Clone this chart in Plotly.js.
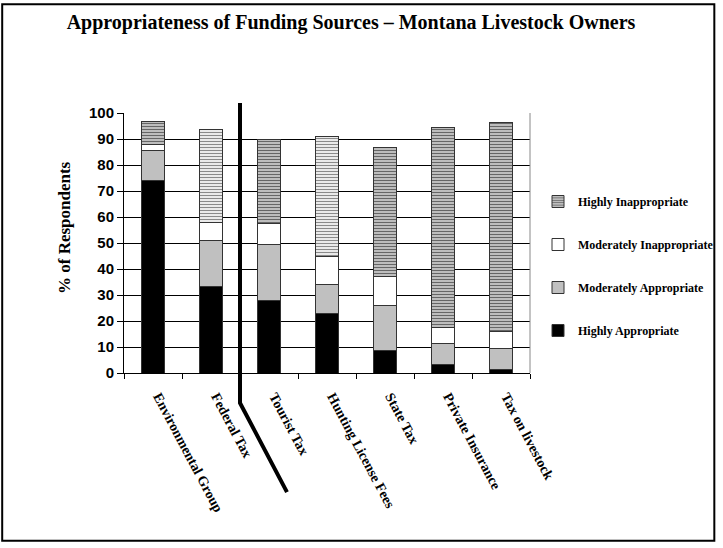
<!DOCTYPE html>
<html>
<head>
<meta charset="utf-8">
<script src="https://cdn.plot.ly/plotly-3.0.1.min.js"></script>
<style>html,body{margin:0;padding:0;background:#fff;}#chart{width:723px;height:548px;}</style>
</head>
<body>
<div id="chart"></div>
<script>
var categories = ["Environmental Group", "Federal Tax", "Tourist Tax", "Hunting License Fees", "State Tax", "Private Insurance", "Tax on livestock"];
var highlyAppropriate = [74.1, 33.4, 27.7, 23.0, 8.7, 3.2, 1.5];
var moderatelyAppropriate = [11.3, 17.6, 21.8, 11.1, 17.1, 8.0, 8.1];
var moderatelyInappropriate = [2.3, 6.9, 8.0, 10.7, 11.5, 6.4, 6.5];
var highlyInappropriate = [9.2, 35.6, 32.3, 46.0, 49.3, 77.0, 80.1];
var yTicks = [0, 10, 20, 30, 40, 50, 60, 70, 80, 90, 100];

var stripeFg = ["#666666", "#8a8a8a", "#666666", "#8a8a8a", "#666666", "#666666", "#666666"];
var stripeBg = ["#d0d0d0", "#ffffff", "#d0d0d0", "#ffffff", "#d0d0d0", "#d0d0d0", "#d0d0d0"];

var outline = {color: "#333333", width: 1};
var traces = [
  {type: "bar", name: "Highly Appropriate", x: categories, y: highlyAppropriate, legendgroup: "a", legendrank: 4,
   marker: {color: "#000000", line: outline}},
  {type: "bar", name: "Moderately Appropriate", x: categories, y: moderatelyAppropriate, legendgroup: "b", legendrank: 3,
   marker: {color: "#c0c0c0", line: outline}},
  {type: "bar", name: "Moderately Inappropriate", x: categories, y: moderatelyInappropriate, legendgroup: "c", legendrank: 2,
   marker: {color: "#ffffff", line: outline}},
  {type: "bar", name: "Highly Inappropriate", x: categories, y: highlyInappropriate, legendgroup: "d", legendrank: 1,
   marker: {color: "#d0d0d0", line: outline,
            pattern: {shape: "-", fgcolor: stripeFg, bgcolor: stripeBg, size: 3, solidity: 0.45, fillmode: "replace"}}}
];

var serifBold = {family: "Liberation Serif, Times New Roman, serif", color: "#000", weight: "bold"};
function f(size) { return Object.assign({}, serifBold, {size: size}); }

var layout = {
  width: 723, height: 548,
  margin: {l: 124, r: 193, t: 113, b: 175},
  paper_bgcolor: "#ffffff", plot_bgcolor: "#ffffff",
  barmode: "stack", bargap: 0.59,
  showlegend: true,
  title: {text: "Appropriateness of Funding Sources \u2013 Montana Livestock Owners",
          font: f(20), x: 0.4855, xanchor: "center", xref: "container", y: 0.96, yanchor: "middle"},
  font: {family: "Liberation Serif, serif", color: "#000"},
  xaxis: {type: "category", tickangle: 62, tickson: "boundaries", ticks: "outside", ticklen: 5, tickcolor: "#000",
          showline: true, linecolor: "#000", linewidth: 1, showgrid: false,
          tickfont: f(14), ticklabelstandoff: 9, ticklabelshift: 6,
          automargin: false},
  yaxis: {range: [0, 100], tickvals: yTicks, ticktext: yTicks.map(String), ticks: "outside", ticklen: 6, tickcolor: "#000",
          showline: true, linecolor: "#000", linewidth: 1, showgrid: true, gridcolor: "#000", gridwidth: 1,
          zeroline: false,
          tickfont: {family: "Liberation Sans, Arial, sans-serif", size: 15, color: "#000", weight: "bold"},
          automargin: false},
  legend: {xref: "container", yref: "container", x: 538 / 723, xanchor: "left", y: 1 - 187 / 548, yanchor: "top",
           traceorder: "grouped", tracegroupgap: 24, itemwidth: 30, bgcolor: "rgba(0,0,0,0)",
           font: f(12)},
  annotations: [
    {text: "% of Respondents", textangle: -90, xref: "paper", yref: "paper",
     x: (64 - 124) / 406, y: (373 - 227) / 260, xanchor: "center", yanchor: "middle",
     showarrow: false, font: f(17)}
  ],
  shapes: [
    {type: "rect", xref: "paper", yref: "paper", x0: -0.3, x1: 1.454, y0: -0.645, y1: 1.418,
     line: {color: "#000", width: 2}, fillcolor: "rgba(0,0,0,0)", layer: "below"},
    {type: "line", xref: "paper", yref: "paper", x0: 1, x1: 1, y0: 0, y1: 1, line: {color: "#888", width: 1}},
    {type: "path", xref: "x", yref: "paper", path: "M 1.5,1.038 L 1.5,-0.115 L 2.31,-0.458",
     line: {color: "#000", width: 4}}
  ]
};

Plotly.newPlot("chart", traces, layout, {displayModeBar: false, staticPlot: true});
</script>
</body>
</html>
